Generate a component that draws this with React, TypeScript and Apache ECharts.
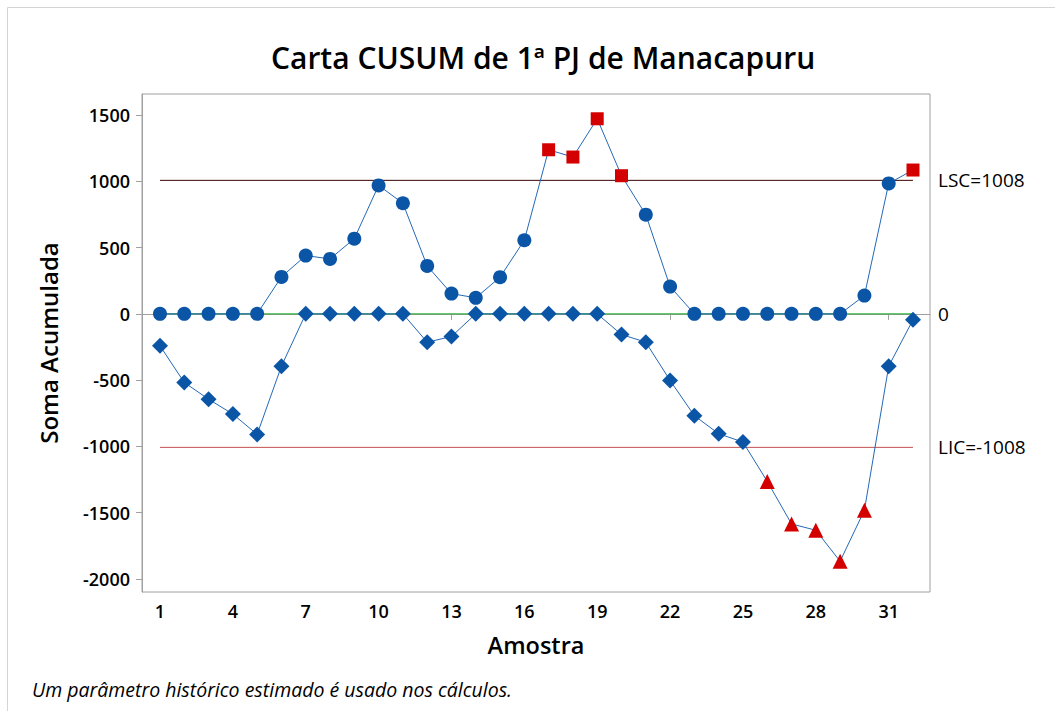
import React, { useEffect, useRef } from "react";
import * as echarts from "echarts";

const samples = [1, 2, 3, 4, 5, 6, 7, 8, 9, 10, 11, 12, 13, 14, 15, 16, 17, 18, 19, 20, 21, 22, 23, 24, 25, 26, 27, 28, 29, 30, 31, 32];
const upperCusum = [0, 0, 0, 0, 0, 279, 440, 415, 568, 970, 835, 362, 153, 121, 277, 556, 1239, 1184, 1473, 1043, 749, 206, 0, 0, 0, 0, 0, 0, 0, 138, 985, 1086];
const lowerCusum = [-241, -518, -644, -757, -910, -395, 0, 0, 0, 0, 0, -214, -171, 0, 0, 0, 0, 0, 0, -156, -214, -503, -769, -905, -968, -1265, -1586, -1634, -1868, -1483, -395, -45];
const xTickValues = [1, 4, 7, 10, 13, 16, 19, 22, 25, 28, 31];
const yTickValues = [-2000, -1500, -1000, -500, 0, 500, 1000, 1500];
const LSC = 1008;
const LIC = -1008;
const CENTER = 0;
const limitLabels = ["LSC=1008", "0", "LIC=-1008"];

const TITLE = "Carta CUSUM de 1ª PJ de Manacapuru";
const X_NAME = "Amostra";
const Y_NAME = "Soma Acumulada";
const NOTE = "Um parâmetro histórico estimado é usado nos cálculos.";

const FONT = "'Open Sans', 'Noto Sans', sans-serif";
const BLUE = "#0a55a6";
const LINE_BLUE = "#2468b8";
const RED = "#d40000";

export default function App() {
  const ref = useRef<HTMLDivElement>(null);
  useEffect(() => {
    if (!ref.current) return;
    const chart = echarts.init(ref.current, null, { renderer: "svg" });
    const first = samples[0];
    const last = samples[samples.length - 1];

    const limitSeries = (value: number, color: string, label: string) => ({
      type: "line",
      data: [
        [first, value],
        [last, value],
      ],
      symbol: "none",
      silent: true,
      z: 1,
      lineStyle: { color, width: 1 },
      endLabel: {
        show: true,
        formatter: label,
        distance: 25,
        color: "#000",
        fontSize: 19,
        fontFamily: FONT,
      },
    });

    const upperData = samples.map((s, i) => {
      const out = upperCusum[i] > LSC;
      return {
        value: [s, upperCusum[i]],
        symbol: out ? "rect" : "circle",
        symbolSize: out ? 13 : 14,
        itemStyle: { color: out ? RED : BLUE },
      };
    });
    const lowerData = samples.map((s, i) => {
      const out = lowerCusum[i] < LIC;
      return {
        value: [s, lowerCusum[i]],
        symbol: out ? "triangle" : "diamond",
        symbolSize: out ? 15 : 16,
        itemStyle: { color: out ? RED : BLUE },
      };
    });

    chart.setOption({
      animation: false,
      backgroundColor: "#fff",
      textStyle: { fontFamily: FONT },
      title: {
        text: TITLE,
        left: 266,
        top: 33,
        textStyle: {
          fontFamily: FONT,
          fontSize: 30,
          fontWeight: 600,
          color: "#000",
          lineHeight: 38,
        },
      },
      grid: {
        left: 142,
        right: 125,
        top: 94,
        bottom: 119,
        show: true,
        borderColor: "#a0a0a0",
        borderWidth: 1,
        containLabel: false,
      },
      xAxis: {
        type: "value",
        min: 0.26,
        max: 32.7,
        name: X_NAME,
        nameLocation: "middle",
        nameGap: 41,
        nameTextStyle: { fontSize: 23.5, fontWeight: 600, color: "#000", fontFamily: FONT },
        axisLine: { show: true, lineStyle: { color: "#a0a0a0" } },
        axisTick: { show: true, length: 6, lineStyle: { color: "#a0a0a0" }, customValues: xTickValues },
        axisLabel: {
          customValues: xTickValues,
          fontSize: 18,
          fontWeight: 600,
          color: "#000",
          margin: 10,
          fontFamily: FONT,
          formatter: (v: number) => String(v),
        },
        splitLine: { show: false },
      },
      yAxis: {
        type: "value",
        min: -2100,
        max: 1660,
        name: Y_NAME,
        nameLocation: "middle",
        nameGap: 82,
        nameTextStyle: { fontSize: 24, fontWeight: 600, color: "#000", fontFamily: FONT },
        axisLine: { show: true, lineStyle: { color: "#a0a0a0" } },
        axisTick: { show: true, length: 6, lineStyle: { color: "#a0a0a0" }, customValues: yTickValues },
        axisLabel: {
          customValues: yTickValues,
          fontSize: 18,
          fontWeight: 600,
          color: "#000",
          margin: 12,
          fontFamily: FONT,
          formatter: (v: number) => String(v),
        },
        splitLine: { show: false },
      },
      graphic: [
        {
          type: "rect",
          silent: true,
          shape: { x: 7.5, y: 7.5, width: 1100, height: 800 },
          style: { fill: "none", stroke: "#d4d4d4", lineWidth: 1 },
        },
        {
          type: "text",
          left: 32,
          top: 679,
          style: {
            text: NOTE,
            fontFamily: FONT,
            fontSize: 19.5,
            fontStyle: "italic",
            fill: "#000",
          },
        },
      ],
      series: [
        limitSeries(CENTER, "#12a820", limitLabels[1]),
        limitSeries(LSC, "#3a0000", limitLabels[0]),
        limitSeries(LIC, "#c45050", limitLabels[2]),
        {
          type: "line",
          data: upperData,
          z: 3,
          lineStyle: { color: LINE_BLUE, width: 1 },
          itemStyle: { color: BLUE },
        },
        {
          type: "line",
          data: lowerData,
          z: 3,
          lineStyle: { color: LINE_BLUE, width: 1 },
          itemStyle: { color: BLUE },
        },
      ],
    });
    return () => chart.dispose();
  }, []);
  return (
    <div
      ref={ref}
      style={{ position: "absolute", left: 0, top: 0, width: 1055, height: 711 }}
    />
  );
}
